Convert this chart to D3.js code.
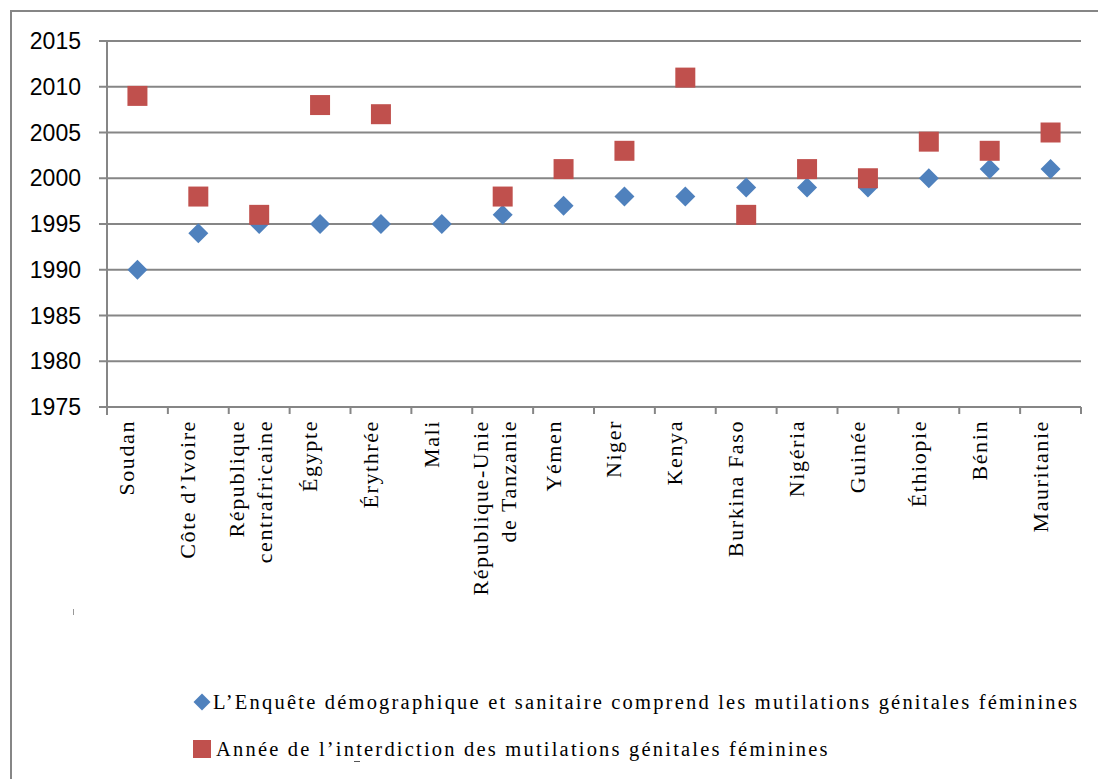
<!DOCTYPE html>
<html><head><meta charset="utf-8">
<script src="https://cdn.jsdelivr.net/npm/d3@7"></script>
<style>
html,body{margin:0;padding:0;background:#fff;}
svg{display:block;}
.serif{font-family:"Liberation Serif","Times New Roman",serif;}
.sans{font-family:"Liberation Sans",Arial,sans-serif;}
</style></head>
<body>
<svg id="chart" width="1098" height="779"></svg>
<script>
const categories = [
  ["Soudan"], ["Côte d’Ivoire"], ["République", "centrafricaine"], ["Égypte"], ["Érythrée"], ["Mali"],
  ["République-Unie", "de Tanzanie"], ["Yémen"], ["Niger"], ["Kenya"], ["Burkina Faso"], ["Nigéria"],
  ["Guinée"], ["Éthiopie"], ["Bénin"], ["Mauritanie"]
];
const surveyYears = [1990, 1994, 1995, 1995, 1995, 1995, 1996, 1997, 1998, 1998, 1999, 1999, 1999, 2000, 2001, 2001];
const banYears    = [2009, 1998, 1996, 2008, 2007, null, 1998, 2001, 2003, 2011, 1996, 2001, 2000, 2004, 2003, 2005];
const yTicks = [1975, 1980, 1985, 1990, 1995, 2000, 2005, 2010, 2015];
const seriesNames = [
  "L’Enquête démographique et sanitaire comprend les mutilations génitales féminines",
  "Année de l’interdiction des mutilations génitales féminines"
];
const colors = ["#4F81BD", "#C0504D"];

(function(){
const svg = d3.select("#chart");
const W = 1098, H = 779;
const pLeft = 107, pRight = 1081, pTop = 41, pBottom = 407;
const grey = "#868686";

// outer border
svg.append("rect").attr("x", 11).attr("y", 11).attr("width", W + 20).attr("height", H + 20)
  .attr("fill", "none").attr("stroke", grey).attr("stroke-width", 2);

const keys = categories.map(c => c.join(" "));
const x = d3.scaleBand().domain(keys).range([pLeft, pRight]).padding(0);
const y = d3.scaleLinear().domain([1975, 2015]).range([pBottom, pTop]);

// gridlines
svg.append("g").selectAll("line").data(yTicks).join("line")
  .attr("x1", pLeft - 8).attr("x2", pRight)
  .attr("y1", d => y(d)).attr("y2", d => y(d))
  .attr("stroke", grey).attr("stroke-width", 2);

// y axis line
svg.append("line").attr("x1", pLeft).attr("x2", pLeft).attr("y1", pTop).attr("y2", pBottom + 8)
  .attr("stroke", grey).attr("stroke-width", 2);

// y tick labels
svg.append("g").selectAll("text").data(yTicks).join("text")
  .attr("class", "sans")
  .attr("x", 81).attr("y", d => y(d) + 8)
  .attr("text-anchor", "end")
  .attr("font-size", 23).attr("fill", "#000")
  .text(d => d);

// x axis ticks at band boundaries
const boundaries = keys.map(k => x(k)).concat([x.range()[1]]);
svg.append("g").selectAll("line").data(boundaries).join("line")
  .attr("x1", d => d).attr("x2", d => d).attr("y1", pBottom).attr("y2", pBottom + 7)
  .attr("stroke", grey).attr("stroke-width", 2);

// category labels
const lblFont = 22;
const lab = svg.append("g").selectAll("g").data(categories).join("g")
  .attr("transform", (d, i) => {
    const cx = x(keys[i]) + x.bandwidth() / 2;
    return `translate(${cx},${pBottom + 13}) rotate(-90)`;
  });
lab.each(function(lines) {
  const g = d3.select(this);
  const n = lines.length;
  lines.forEach((t, j) => {
    const base = n === 1 ? -3 : (j === 0 ? -15 : 13);
    g.append("text").attr("class", "serif").attr("x", 0).attr("y", base)
      .attr("text-anchor", "end")
      .attr("font-size", lblFont).attr("letter-spacing", "1.6px").attr("fill", "#000")
      .text(t);
  });
});

// series markers
const diamond = d3.symbol().type(d3.symbolSquare).size(200);
const square = d3.symbol().type(d3.symbolSquare).size(400);

svg.append("g").selectAll("path").data(surveyYears.map((v, i) => ({v, k: keys[i]})).filter(d => d.v != null))
  .join("path")
  .attr("d", diamond)
  .attr("transform", d => `translate(${x(d.k) + x.bandwidth() / 2},${y(d.v)}) rotate(45)`)
  .attr("fill", colors[0]);

svg.append("g").selectAll("path").data(banYears.map((v, i) => ({v, k: keys[i]})).filter(d => d.v != null))
  .join("path")
  .attr("d", square)
  .attr("transform", d => `translate(${x(d.k) + x.bandwidth() / 2},${y(d.v)})`)
  .attr("fill", colors[1]);

// small stray marks
svg.append("line").attr("x1", 73.5).attr("x2", 73.5).attr("y1", 609).attr("y2", 615)
  .attr("stroke", "#999").attr("stroke-width", 1);
svg.append("line").attr("x1", 354).attr("x2", 360).attr("y1", 761.5).attr("y2", 761.5)
  .attr("stroke", "#555").attr("stroke-width", 1);

// legend
const legend = [
  {name: seriesNames[0], color: colors[0], sym: d3.symbol().type(d3.symbolSquare).size(144), rot: 45, mx: 202, my: 702, tx: 213, ty: 709},
  {name: seriesNames[1], color: colors[1], sym: d3.symbol().type(d3.symbolSquare).size(324), rot: 0, mx: 202, my: 749, tx: 216, ty: 756}
];
const lg = svg.append("g").selectAll("g").data(legend).join("g");
lg.append("path").attr("d", d => d.sym())
  .attr("transform", d => `translate(${d.mx},${d.my}) rotate(${d.rot})`)
  .attr("fill", d => d.color);
lg.append("text").attr("class", "serif").attr("x", d => d.tx).attr("y", d => d.ty)
  .attr("font-size", 20.5).attr("letter-spacing", "2.2px").attr("fill", "#000")
  .text(d => d.name);
})();
</script>
</body></html>
